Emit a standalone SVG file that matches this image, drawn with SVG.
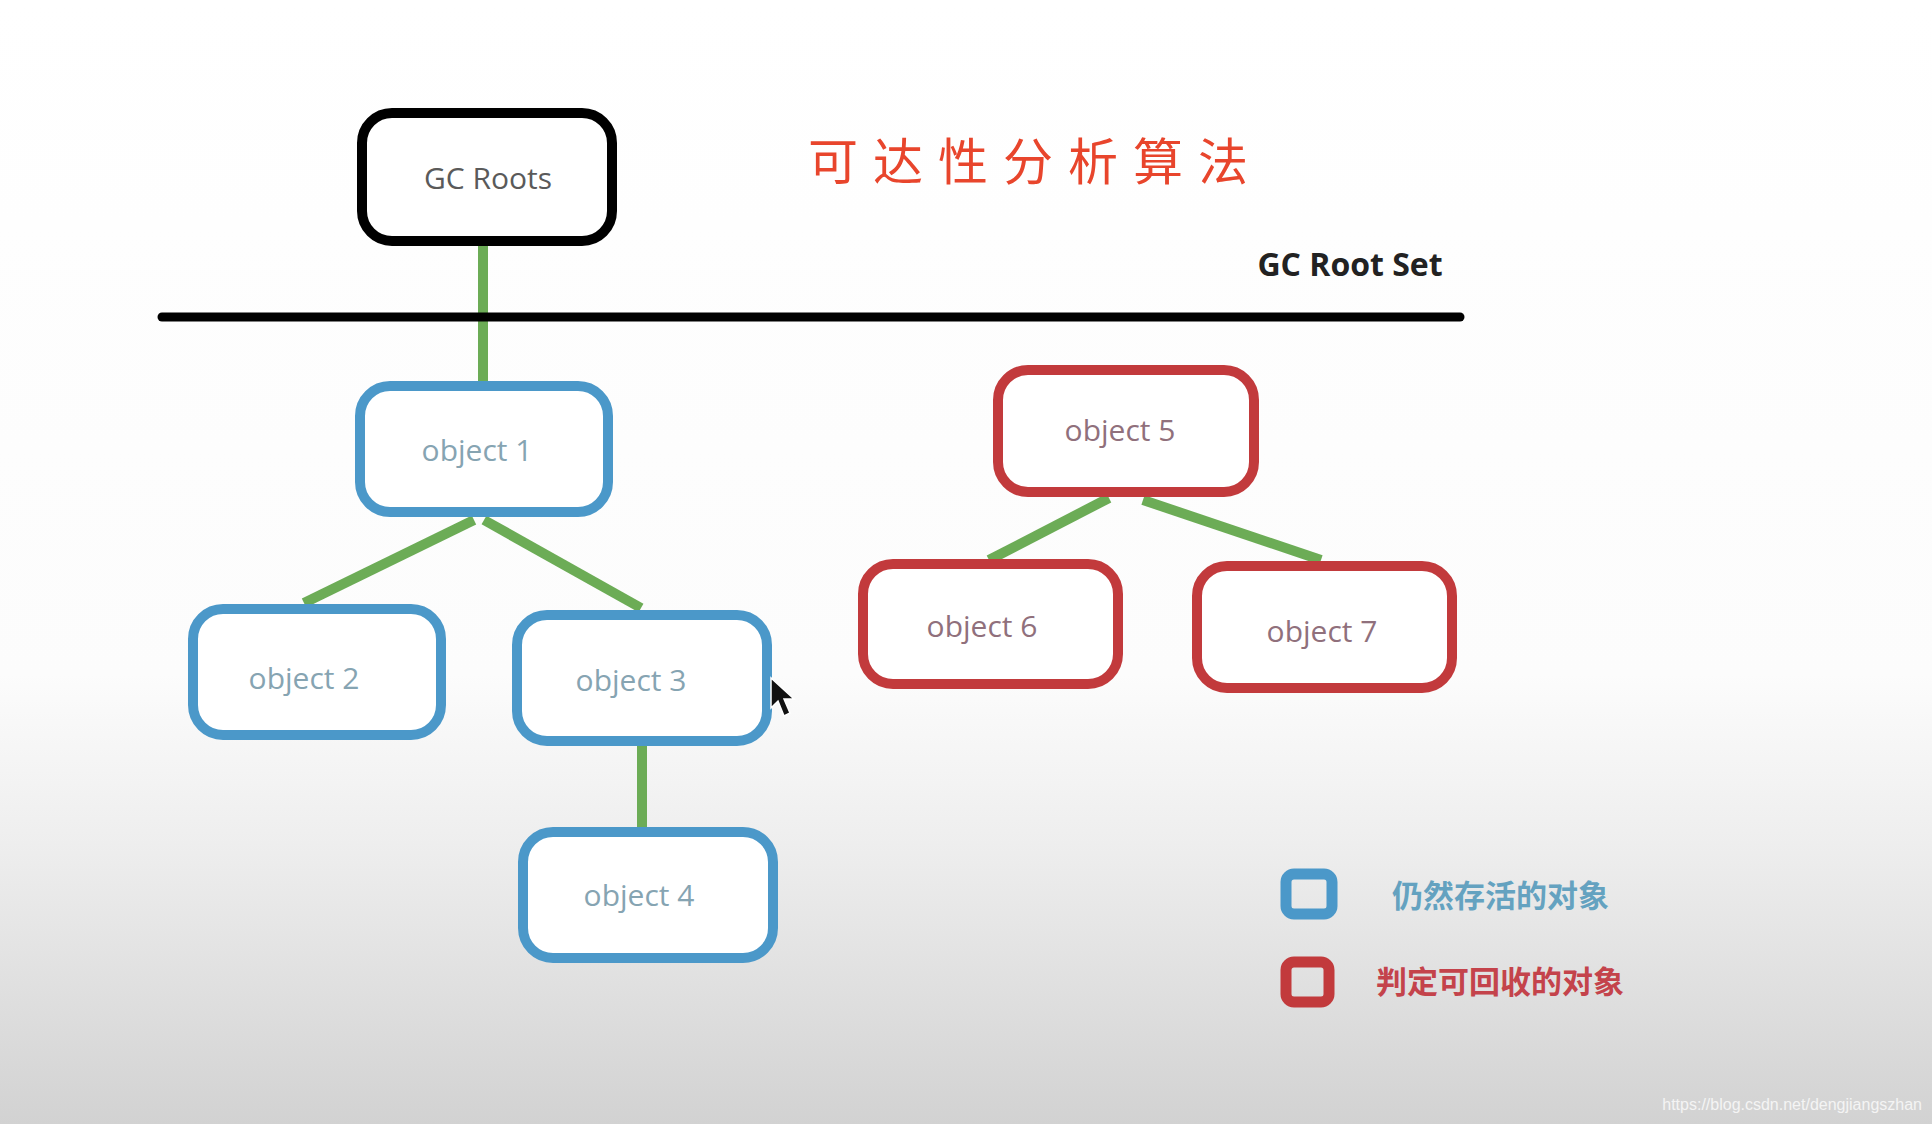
<svg xmlns="http://www.w3.org/2000/svg" width="1932" height="1124" viewBox="0 0 1932 1124">
<defs>
<linearGradient id="bg" x1="0" y1="0" x2="0" y2="1">
<stop offset="0" stop-color="#ffffff"/>
<stop offset="0.6" stop-color="#fcfcfc"/>
<stop offset="0.75" stop-color="#eeeeee"/>
<stop offset="1" stop-color="#d2d2d2"/>
</linearGradient>
<style>
.blue{fill:#fff;stroke:#4b98c9;stroke-width:10}
.red{fill:#fff;stroke:#c23a3c;stroke-width:10}
.lbl{font-family:"Open Sans","Noto Sans",sans-serif;font-size:30px;text-anchor:middle}
.bl{fill:#86a4b2}
.rl{fill:#90707c}
.edge{stroke:#6cac56;stroke-width:10;stroke-linecap:butt;fill:none}
.leg{font-family:"Noto Sans CJK SC",sans-serif;font-size:31px;font-weight:bold}
</style>
</defs>
<rect x="0" y="0" width="1932" height="1124" fill="url(#bg)"/>

<g id="connectors">
<line class="edge" x1="483" y1="244" x2="483" y2="384"/>
<line class="edge" x1="474" y1="520" x2="304" y2="603"/>
<line class="edge" x1="484" y1="520" x2="641" y2="608"/>
<line class="edge" x1="642" y1="744" x2="642" y2="830"/>
<line class="edge" x1="1109" y1="498" x2="989" y2="560"/>
<line class="edge" x1="1143" y1="500" x2="1321" y2="560"/>
</g>

<line id="root-set-line" x1="162" y1="317" x2="1460" y2="317" stroke="#000" stroke-width="9" stroke-linecap="round"/>
<text id="root-set-label" x="1350" y="276" font-family="Open Sans, Noto Sans, sans-serif" font-size="32" font-weight="bold" text-anchor="middle" fill="#222">GC Root Set</text>

<text id="title" x="808" y="180" font-family="Noto Sans CJK SC, sans-serif" font-size="50" letter-spacing="15" fill="#e8452c">可达性分析算法</text>

<g id="gc-roots">
<rect x="362" y="113" width="250" height="128" rx="30" fill="#fff" stroke="#000" stroke-width="10"/>
<text class="lbl" x="488" y="189" fill="#5a5a5a" font-size="32">GC Roots</text>
</g>

<g id="object1">
<rect class="blue" x="360" y="386" width="248" height="126" rx="30"/>
<text class="lbl bl" x="477" y="461">object 1</text>
</g>
<g id="object2">
<rect class="blue" x="193" y="609" width="248" height="126" rx="30"/>
<text class="lbl bl" x="304" y="689">object 2</text>
</g>
<g id="object3">
<rect class="blue" x="517" y="615" width="250" height="126" rx="30"/>
<text class="lbl bl" x="631" y="691">object 3</text>
</g>
<g id="object4">
<rect class="blue" x="523" y="832" width="250" height="126" rx="30"/>
<text class="lbl bl" x="639" y="906">object 4</text>
</g>
<g id="object5">
<rect class="red" x="998" y="370" width="256" height="122" rx="30"/>
<text class="lbl rl" x="1120" y="441">object 5</text>
</g>
<g id="object6">
<rect class="red" x="863" y="564" width="255" height="120" rx="30"/>
<text class="lbl rl" x="982" y="637">object 6</text>
</g>
<g id="object7">
<rect class="red" x="1197" y="566" width="255" height="122" rx="30"/>
<text class="lbl rl" x="1322" y="642">object 7</text>
</g>

<g id="cursor">
<polygon points="771,678 771,708 778,701 784,716 790,713 784,699 794,699" fill="#111" stroke="#fff" stroke-width="1.5"/>
</g>

<g id="legend">
<rect x="1286" y="874" width="46" height="40" rx="8" fill="none" stroke="#4b98c9" stroke-width="11"/>
<text class="leg" x="1392" y="907" fill="#64a2c0">仍然存活的对象</text>
<rect x="1286" y="962" width="43" height="40" rx="8" fill="none" stroke="#c23a3c" stroke-width="11"/>
<text class="leg" x="1376" y="993" fill="#c4434b">判定可回收的对象</text>
</g>

<text id="watermark" x="1922" y="1110" font-family="Liberation Sans, Arial, sans-serif" font-size="16" text-anchor="end" fill="#f4f4f4">https://blog.csdn.net/dengjiangszhan</text>
</svg>
